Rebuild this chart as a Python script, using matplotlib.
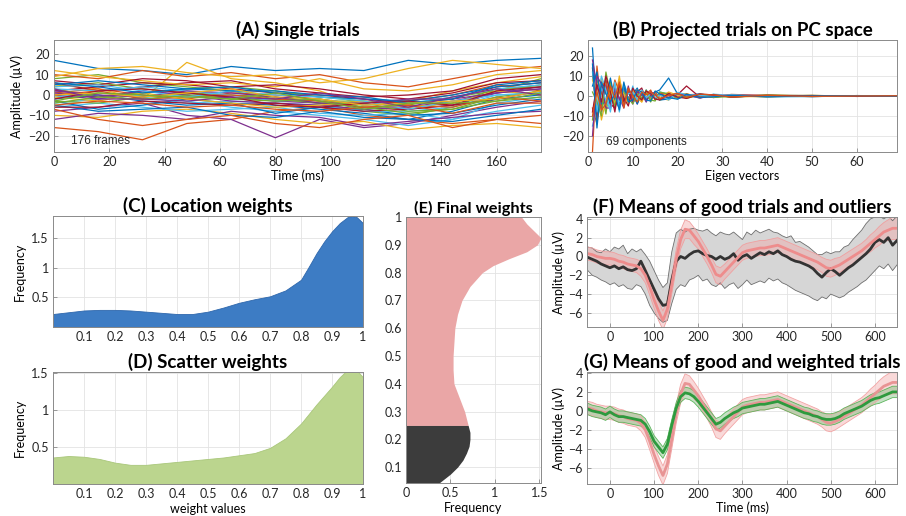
import matplotlib
matplotlib.use("Agg")
import matplotlib.pyplot as plt
import numpy as np

plt.rcParams['font.family'] = ['Lato', 'DejaVu Sans']
plt.rcParams['axes.linewidth'] = 0.7

# MATLAB default colour order
matlab_colors = ['#0072BD', '#D95319', '#EDB120', '#7E2F8E', '#77AC30', '#4DBEEE', '#A2142F']

# ---------------- (A) single trials ----------------
a_times = [0, 16, 32, 48, 64, 80, 96, 112, 128, 144, 160, 176]
a_trials = [
    [17, 13, 12, 10, 14, 12, 13, 12, 17, 15, 17, 18],
    [-16, -18, -22, -14, -12, -8, -6, -10, -12, -14, -12, -10],
    [5, 3, -2, 16, 8, 6, 2, -5, -3, 2, 6, 9],
    [-8, -6, -4, -10, -12, -21, -12, -16, -14, -10, -6, -3],
    [8, 10, 6, 4, 2, -2, -4, -8, -10, -6, 2, 8],
    [-4, -2, 0, -3, -6, -8, -10, -12, -15, -12, -8, -5],
    [2, 4, 6, 5, 3, 1, 0, -2, -4, -2, 4, 6],
    [-2, 0, -3, -5, -4, -5, -7, -9, -12, -8, -2, 0],
    [10, 8, 12, 9, 11, 8, 10, 6, 4, 8, 12, 14],
    [-10, -11, -8, -7, -9, -12, -14, -13, -17, -15, -14, -16],
    [0, -2, 2, 0, -1, -3, -4, -6, -7, -5, 1, 3],
    [4, 6, 3, 1, 0, -1, -3, -3, -6, -4, 3, 4],
    [-6, -4, -6, -8, -7, -6, -9, -10, -9, -12, -4, -1],
    [6, 2, 4, 6, 7, 3, 1, -1, 0, 2, 8, 10],
    [-3, -7, -5, -2, -4, -9, -6, -7, -10, -9, -5, -2],
    [1, 3, 0, -2, 1, 0, -2, -5, -3, 0, 5, 2],
    [12, 9, 7, 5, 6, 4, 8, 3, 2, 5, 10, 12],
    [-12, -9, -10, -12, -8, -10, -11, -15, -13, -11, -9, -8],
    [3, -1, 1, 3, 4, 2, -1, -3, -5, -1, 2, 5],
    [-1, 1, -1, -4, -3, -4, -5, -8, -8, -6, 0, 1],
    [7, 5, 8, 7, 4, 5, 3, 0, -2, 1, 6, 7],
    [-5, -8, -7, -6, -10, -11, -8, -11, -12, -13, -10, -7],
    [-7, -12, -15, -12, -10, -14, -16, -12, -10, -16, -12, -14],
    [9, 13, 14, 11, 9, 10, 6, 8, 13, 17, 15, 13],
    [1, -1, 2, 0, -3, -4, -5, -7, -6, -3, 1, 4],
    [-3, -4, -1, 1, -2, -2, -4, -4, -8, -7, -3, -1],
    [3, 2, 4, 2, 0, -3, -2, -5, -4, -1, 3, 5],
    [-6, -6, -3, -4, -5, -4, -6, -8, -7, -5, -2, 2],
    [5, 7, 5, 3, 4, 1, -1, -2, -3, 0, 4, 6],
    [0, 2, -2, -1, 0, -2, -3, -6, -5, -6, -1, -3],
    [-1, -3, 1, -2, -4, -6, -5, -3, -6, -4, 2, 0],
    [2, 0, -1, 2, 1, -1, -4, -4, -2, -2, 1, 3],
    [-4, -1, -2, 0, -2, -3, -2, -6, -9, -7, -1, 2],
    [4, 5, 2, -1, 2, 0, -1, -3, -7, -3, 0, 1],
    [-2, 2, 3, 1, -1, -5, -6, -4, -3, -5, 2, 4],
    [6, 4, 1, 3, 2, 2, 0, -1, -4, -2, 5, 7],
    [-5, -3, -4, -6, -5, -7, -8, -6, -5, -9, -4, -4],
    [0, 1, -1, 1, 3, -1, -2, -5, -4, -3, -2, 2],
    [3, -2, -2, -3, -1, -2, 1, -2, -6, -1, 3, 0],
    [-3, 1, 0, -1, -2, 1, -3, -7, -4, -4, -3, 1],
]

# ---------------- (B) projected trials ----------------
b_comp = [1, 2, 3, 4, 5, 6, 7, 8, 9, 10, 11, 12, 13, 14, 15, 16, 18, 20, 22, 25, 28, 32, 40, 50, 60, 69]
b_trials = [
    [24, -10, 8, -5, 6, 2, -4, 3, -2, 1, 4, -2, 3, -1, 2, 3, 9, 1, 0.5, -1, 0.8, -0.5, 0.4, -0.3, 0.2, 0],
    [-28, 15, -6, 4, -3, 5, -2, 1, -3, 2, -3, 1, -2, 2, -1, 1, 0.5, 1.5, -0.8, 0.8, -0.6, 0.5, -0.3, 0.3, -0.2, 0.1],
    [10, -6, 9, -7, 4, -3, 10, -4, 2, -1, 3, -3, 2, -2, 1, -1, -2, 1, 1.2, -0.9, 0.7, -0.4, 0.6, -0.2, 0.1, 0.1],
    [18, 5, -8, 6, -5, 3, -2, 4, -1, 2, -4, 3, -1, 2, -2, 0.5, 1.5, -1.2, 0.6, 0.9, -0.8, 0.6, -0.3, 0.2, -0.2, 0],
    [-12, 8, 2, -9, 7, -6, 3, -2, 4, -2, 1, -1.5, 3, -3, 2, -2, -1, 0.8, -1.2, 0.6, 0.4, -0.6, 0.2, 0.3, -0.1, 0],
    [-15, -5, 10, 3, -8, 6, -5, 2, -3, 5, -2, 2, -3, 1, -1.5, 2, 1, -1.5, 0.4, -0.8, 0.9, 0.3, -0.5, -0.2, 0.2, 0],
    [14, -12, 3, 8, -4, -6, 5, -3, 2, -3, 2, 4, -2, 0.5, 2, -1, 0.8, 0.6, 5, -0.6, 0.3, -0.4, 0.2, 0.1, -0.1, 0],
    [5, 12, -4, -3, 9, -2, -6, 5, -2, 1, -4, 1, 2, -1, 1, -2, -1.5, 1, -0.5, 1.2, -0.4, 0.2, -0.3, 0.2, 0.1, 0],
    [-6, -14, 5, 7, -2, 8, 2, -5, 3, -1, 3, -2, 1, 3, -2, 1.5, 0.5, -0.8, 1, -0.4, -0.6, 0.8, 0.2, -0.3, 0.2, 0.1],
    [8, 3, -12, -2, 3, -4, 8, 1, -4, 3, -1, -3, 2, -1.5, 1.5, -1, 2, 0.4, -1, 0.7, 0.5, -0.2, -0.4, 0.2, 0, -0.1],
    [-20, 10, 6, -6, -6, 4, -1, -6, 5, -4, 2, 1, -3, 2, 1, -1.5, -0.6, 1.2, 0.5, -1, 0.2, 0.4, 0.3, -0.2, 0.1, 0],
    [2, -3, -10, 12, 1, -5, 4, 2, -1, -4, 1, -1, 1.5, -2, -2.5, 2, 1, -1, -0.4, 0.5, -0.7, -0.3, 0.4, 0.1, -0.1, 0.1],
    [12, -8, 4, -2, -7, 7, -8, 6, 1, 2, -2, 3, -1, 1, -1, 0.5, -2, 1.8, 0.7, 0.3, -0.3, 0.6, -0.2, -0.3, 0.1, 0],
    [-8, 6, -3, 10, 2, -8, 6, -1, -5, 4, 0, -2, 2.5, 1, -1.5, -2, 1.2, -0.5, -1.2, 0.9, 0.6, -0.5, 0.3, 0.2, -0.2, 0],
    [16, -16, 7, 1, -3, 1, -7, 7, -3, -2, 3, 2, -2, -2.5, 2.5, 1, -0.8, -1.6, 0.9, -0.7, -0.4, 0.3, -0.4, 0.1, 0.1, -0.1],
    [-10, 2, -7, -4, 5, -1, 7, -6, 4, 0, -3, 2, 0.5, 2, 0.5, -1.5, 0.3, 1.3, -0.7, 1, 0.5, -0.5, 0.3, -0.2, 0, 0.1],
]

# ---------------- (C)/(D) weight densities ----------------
w_values = [0, 0.05, 0.1, 0.15, 0.2, 0.25, 0.3, 0.35, 0.4, 0.45, 0.5, 0.55, 0.6, 0.65,
            0.7, 0.75, 0.8, 0.825, 0.85, 0.875, 0.9, 0.925, 0.95, 0.965, 0.98, 1.0]
loc_freq = [0.22, 0.25, 0.28, 0.29, 0.29, 0.28, 0.26, 0.24, 0.22, 0.22, 0.26, 0.33, 0.41, 0.47,
            0.52, 0.62, 0.80, 1.02, 1.25, 1.45, 1.62, 1.76, 1.86, 1.88, 1.86, 1.76]
scat_freq = [0.36, 0.38, 0.37, 0.34, 0.29, 0.26, 0.26, 0.28, 0.30, 0.32, 0.34, 0.36, 0.39, 0.42,
             0.49, 0.62, 0.82, 0.95, 1.08, 1.20, 1.32, 1.45, 1.55, 1.56, 1.54, 1.45]

# ---------------- (E) final weights ----------------
e_weights = [0.04, 0.05, 0.075, 0.1, 0.125, 0.15, 0.175, 0.2, 0.225, 0.25, 0.3, 0.35, 0.4, 0.45,
             0.5, 0.55, 0.6, 0.65, 0.7, 0.75, 0.8, 0.825, 0.85, 0.875, 0.9, 0.925, 0.95, 0.975, 1.0]
e_freq = [0.36, 0.40, 0.50, 0.58, 0.64, 0.68, 0.71, 0.72, 0.72, 0.70, 0.66, 0.60, 0.54, 0.53,
          0.53, 0.54, 0.55, 0.58, 0.63, 0.72, 0.86, 0.98, 1.16, 1.36, 1.48, 1.52, 1.44, 1.36, 1.30]
outlier_cut = 0.25

# ---------------- (F)/(G) ERP means ----------------
erp_times = [-50, -40, -30, -20, -10, 0, 10, 20, 30, 40, 50, 60, 70, 80, 90, 100, 110, 120, 130, 140,
             150, 160, 170, 180, 190, 200, 210, 220, 230, 240, 250, 260, 270, 280, 290, 300, 310, 320,
             330, 340, 350, 360, 370, 380, 390, 400, 410, 420, 430, 440, 450, 460, 470, 480, 490, 500,
             510, 520, 530, 540, 550, 560, 570, 580, 590, 600, 610, 620, 630, 640, 650]
good_mean = [0.3, 0.2, 0.0, -0.1, -0.2, -0.2, -0.3, -0.5, -0.6, -0.8, -0.9, -1.0, -1.3, -2.0, -3.2,
             -4.6, -5.8, -6.8, -5.6, -3.0, -0.3, 1.8, 2.9, 2.8, 2.2, 1.6, 0.8, 0.0, -0.9, -1.9, -2.1,
             -1.6, -1.1, -0.6, -0.1, 0.4, 0.6, 0.7, 0.8, 0.9, 0.9, 1.0, 1.1, 1.2, 1.0, 0.8, 0.6, 0.4,
             0.2, 0.0, -0.2, -0.4, -0.6, -0.9, -1.2, -1.3, -1.1, -0.9, -0.6, -0.3, 0.0, 0.3, 0.6, 1.0,
             1.4, 1.8, 2.2, 2.6, 2.8, 3.0, 3.0]
good_err = [0.7, 0.7, 0.7, 0.7, 0.7, 0.7, 0.7, 0.7, 0.7, 0.7, 0.7, 0.7, 0.8, 0.8, 0.9,
            0.9, 1.0, 1.0, 1.0, 1.0, 1.0, 1.0, 1.0, 0.9, 0.9, 0.8, 0.8, 0.8, 0.8, 0.9, 0.9,
            0.8, 0.8, 0.8, 0.8, 0.8, 0.8, 0.8, 0.8, 0.8, 0.8, 0.8, 0.8, 0.8, 0.8, 0.8, 0.8, 0.8,
            0.8, 0.8, 0.8, 0.8, 0.8, 0.8, 0.9, 0.9, 0.9, 0.8, 0.8, 0.8, 0.8, 0.8, 0.8, 0.8,
            0.9, 0.9, 1.0, 1.0, 1.1, 1.2, 1.2]
outlier_mean = [-0.1, -0.3, -0.5, -0.8, -1.0, -1.2, -1.0, -1.3, -1.1, -1.4, -1.5, -1.3, -0.5, -1.5,
                -2.5, -3.5, -4.5, -5.2, -5.1, -2.5, -0.5, 0.0, -0.2, 0.2, 0.5, 0.6, 0.3, 0.1, 0.0,
                -0.3, 0.0, -0.3, -0.1, 0.3, -0.4, 0.0, 0.2, -0.2, 0.1, 0.4, 0.2, 0.5, 0.3, 0.6, 0.2,
                0.0, -0.3, -0.5, -0.6, -0.8, -1.0, -1.3, -1.8, -2.2, -1.7, -1.3, -1.6, -2.0, -1.6,
                -1.2, -0.9, -0.5, -0.1, 0.3, 0.8, 1.5, 1.8, 1.5, 2.0, 1.2, 1.7]
outlier_upper = [1.0, 0.9, 0.5, 0.4, 0.8, 0.5, 1.0, 0.8, 1.2, 0.3, 0.8, 0.5, 0.8, 0.2, -0.5, -1.5,
                 -2.5, -3.3, -2.8, 0.5, 2.5, 2.9, 2.6, 2.9, 3.0, 2.8, 2.7, 2.9, 2.5, 2.2, 2.6, 2.4,
                 2.3, 2.6, 2.2, 1.8, 2.6, 2.3, 2.8, 2.5, 2.7, 2.9, 2.6, 2.5, 2.2, 2.0, 2.2, 1.5,
                 1.6, 1.3, 1.0, 0.6, 0.2, 0.2, 0.5, 0.3, 0.5, 0.5, 1.0, 1.2, 1.8, 2.3, 2.8, 3.5,
                 4.0, 4.2, 4.3, 4.0, 4.3, 3.8, 4.3]
outlier_lower = [-1.5, -2.0, -2.2, -2.5, -2.7, -3.0, -2.8, -3.2, -3.0, -3.4, -3.5, -3.0, -3.2, -4.0,
                 -5.2, -6.0, -6.6, -7.0, -6.8, -5.0, -3.5, -3.0, -3.2, -2.5, -2.3, -2.0, -2.6, -2.4,
                 -3.0, -3.2, -2.8, -3.4, -3.0, -2.8, -3.4, -3.0, -2.5, -3.0, -2.8, -2.6, -2.8, -2.3,
                 -2.6, -2.4, -2.8, -3.0, -3.3, -3.6, -3.8, -4.0, -4.2, -4.5, -4.7, -4.3, -4.5, -4.0,
                 -4.2, -4.4, -4.2, -3.8, -3.5, -3.2, -2.8, -2.5, -2.0, -1.5, -1.0, -1.3, -0.8, -1.5,
                 -0.9]
weighted_mean = [0.2, 0.0, -0.1, -0.2, -0.4, -0.1, -0.4, -0.6, -0.6, -0.7, -0.8, -0.9, -1.0, -1.4,
                 -2.2, -3.2, -3.8, -4.4, -3.5, -1.5, 0.3, 1.5, 1.9, 1.8, 1.5, 1.0, 0.4, -0.2, -0.8,
                 -1.4, -1.2, -0.8, -0.5, -0.2, 0.0, 0.3, 0.4, 0.5, 0.6, 0.7, 0.7, 0.8, 0.9, 1.0, 0.8,
                 0.6, 0.4, 0.2, 0.0, -0.2, -0.3, -0.5, -0.6, -0.8, -0.9, -0.9, -0.8, -0.6, -0.3,
                 -0.1, 0.1, 0.3, 0.5, 0.8, 1.1, 1.3, 1.4, 1.6, 1.8, 2.0, 2.0]
weighted_err = 0.6


def px_axes(fig, left, top, right, bottom, W=906, H=516):
    return fig.add_axes([left / W, 1 - bottom / H, (right - left) / W, (bottom - top) / H])


def matlab_style(ax):
    ax.grid(True, color='#e3e3e3', linewidth=0.6)
    ax.set_axisbelow(True)
    for s in ax.spines.values():
        s.set_color('#8a8a8a')
    ax.tick_params(direction='in', length=3, width=0.6, color='#8a8a8a',
                   labelsize=9, labelcolor='#262626', pad=3)


def title(ax, text, size=13.5):
    ax.set_title(text, fontsize=size, fontweight='bold', pad=3)


fig = plt.figure(figsize=(9.06, 5.16), dpi=100)

# (A)
ax = px_axes(fig, 54, 40, 541, 152)
for i, tr in enumerate(a_trials):
    ax.plot(a_times, tr, color=matlab_colors[i % 7], linewidth=0.9)
ax.set_xlim(0, 176)
ax.set_ylim(-28, 27)
ax.set_xticks([0, 20, 40, 60, 80, 100, 120, 140, 160])
ax.set_yticks([-20, -10, 0, 10, 20])
ax.text(6, -22.5, '176 frames', fontsize=8.5, family='Liberation Sans', color='#262626', va='center')
ax.set_xlabel('Time (ms)', fontsize=9, labelpad=1)
ax.set_ylabel('Amplitude (μV)', fontsize=9)
matlab_style(ax)
title(ax, '(A) Single trials')

# (B)
ax = px_axes(fig, 588, 40, 897, 152)
for i, tr in enumerate(b_trials):
    ax.plot(b_comp, tr, color=matlab_colors[i % 7], linewidth=0.9)
ax.set_xlim(0, 69)
ax.set_ylim(-28, 28)
ax.set_xticks([0, 10, 20, 30, 40, 50, 60])
ax.set_yticks([-20, -10, 0, 10, 20])
ax.text(4, -23, '69 components', fontsize=8.5, family='Liberation Sans', color='#262626', va='center')
ax.set_xlabel('Eigen vectors', fontsize=9, labelpad=1)
matlab_style(ax)
title(ax, '(B) Projected trials on PC space')

# (C)
ax = px_axes(fig, 53, 216, 363, 327)
ax.fill_between(w_values, 0, loc_freq, color='#3D7CC4', edgecolor='#2E67AC', linewidth=0.6)
ax.set_xlim(0, 1)
ax.set_ylim(0, 1.88)
ax.set_xticks([0.1, 0.2, 0.3, 0.4, 0.5, 0.6, 0.7, 0.8, 0.9, 1])
ax.set_xticklabels(['0.1', '0.2', '0.3', '0.4', '0.5', '0.6', '0.7', '0.8', '0.9', '1'])
ax.set_yticks([0.5, 1, 1.5])
ax.set_yticklabels(['0.5', '1', '1.5'])
ax.set_ylabel('Frequency', fontsize=9)
matlab_style(ax)
title(ax, '(C) Location weights')

# (D)
ax = px_axes(fig, 53, 372, 363, 484)
ax.fill_between(w_values, 0, scat_freq, color='#BBD58E', edgecolor='#A9C77A', linewidth=0.6)
ax.set_xlim(0, 1)
ax.set_ylim(0, 1.52)
ax.set_xticks([0.1, 0.2, 0.3, 0.4, 0.5, 0.6, 0.7, 0.8, 0.9, 1])
ax.set_xticklabels(['0.1', '0.2', '0.3', '0.4', '0.5', '0.6', '0.7', '0.8', '0.9', '1'])
ax.set_yticks([0.5, 1, 1.5])
ax.set_yticklabels(['0.5', '1', '1.5'])
ax.set_ylabel('Frequency', fontsize=9)
ax.set_xlabel('weight values', fontsize=9, labelpad=2)
matlab_style(ax)
title(ax, '(D) Scatter weights')

# (E)
ax = px_axes(fig, 406, 217, 541, 483)
ew = np.array(e_weights)
ef = np.array(e_freq)
good = ew >= outlier_cut
bad = ew <= outlier_cut
ax.fill_betweenx(ew[good], 0, ef[good], color='#EAA6A6', linewidth=0)
ax.fill_betweenx(ew[bad], 0, ef[bad], color='#3C3C3C', linewidth=0)
ax.set_xlim(0, 1.52)
ax.set_ylim(0.043, 1.0)
ax.set_xticks([0, 0.5, 1, 1.5])
ax.set_xticklabels(['0', '0.5', '1', '1.5'])
ax.set_yticks([0.1, 0.2, 0.3, 0.4, 0.5, 0.6, 0.7, 0.8, 0.9, 1])
ax.set_yticklabels(['0.1', '0.2', '0.3', '0.4', '0.5', '0.6', '0.7', '0.8', '0.9', '1'])
ax.set_xlabel('Frequency', fontsize=9, labelpad=2)
matlab_style(ax)
title(ax, '(E) Final weights', size=11.8)

t = np.array(erp_times)
gm = np.array(good_mean)
ge = np.array(good_err)

# (F)
ax = px_axes(fig, 587, 217, 897, 327)
ax.fill_between(t, outlier_lower, outlier_upper, color='#D6D6D6', edgecolor='none')
ax.plot(t, outlier_upper, color='#6E6E6E', linewidth=0.6)
ax.plot(t, outlier_lower, color='#6E6E6E', linewidth=0.6)
ax.fill_between(t, gm - ge, gm + ge, color='#F2A9A9', alpha=0.45, edgecolor='none')
ax.plot(t, gm - ge, color='#F0A0A0', linewidth=0.6)
ax.plot(t, gm + ge, color='#F0A0A0', linewidth=0.6)
ax.plot(t, outlier_mean, color='#333333', linewidth=2)
ax.plot(t, gm, color='#EE8C8C', linewidth=2)
ax.set_xlim(-52, 650)
ax.set_ylim(-7.5, 4.2)
ax.set_xticks([0, 100, 200, 300, 400, 500, 600])
ax.set_yticks([-6, -4, -2, 0, 2, 4])
ax.set_ylabel('Amplitude (μV)', fontsize=9, labelpad=2)
matlab_style(ax)
title(ax, '(F) Means of good trials and outliers')

# (G)
ax = px_axes(fig, 587, 372, 897, 484)
wm = np.array(weighted_mean)
ax.fill_between(t, gm - ge, gm + ge, color='#F7CACA', alpha=0.7, edgecolor='none')
ax.plot(t, gm - ge, color='#F2A5A5', linewidth=0.6)
ax.plot(t, gm + ge, color='#F2A5A5', linewidth=0.6)
ax.fill_between(t, wm - weighted_err, wm + weighted_err, color='#7CC07C', alpha=0.45, edgecolor='none')
ax.plot(t, wm - weighted_err, color='#5DB55D', linewidth=0.6)
ax.plot(t, wm + weighted_err, color='#5DB55D', linewidth=0.6)
ax.plot(t, gm, color='#E89494', linewidth=2)
ax.plot(t, wm, color='#2E9A3E', linewidth=2)
ax.set_xlim(-52, 650)
ax.set_ylim(-7.7, 4.1)
ax.set_xticks([0, 100, 200, 300, 400, 500, 600])
ax.set_yticks([-6, -4, -2, 0, 2, 4])
ax.set_ylabel('Amplitude (μV)', fontsize=9, labelpad=2)
ax.set_xlabel('Time (ms)', fontsize=9, labelpad=1)
matlab_style(ax)
title(ax, '(G) Means of good and weighted trials')

fig.savefig('out.png', dpi=100)
